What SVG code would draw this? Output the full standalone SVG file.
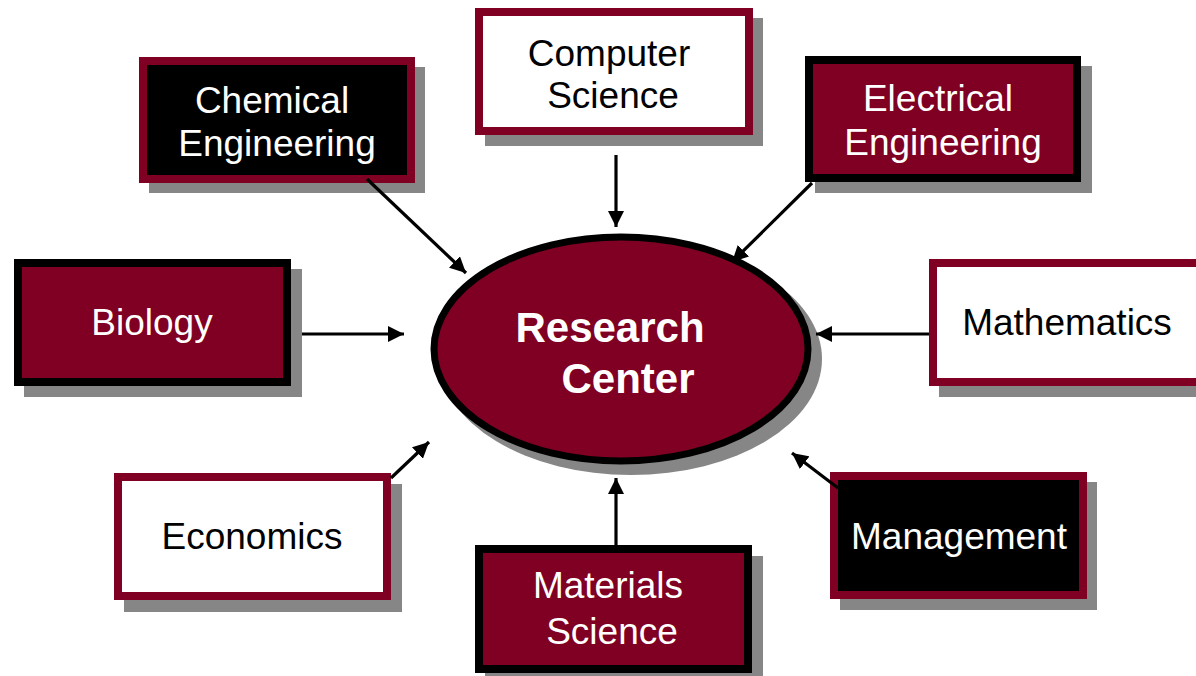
<svg xmlns="http://www.w3.org/2000/svg" width="1196" height="676" viewBox="0 0 1196 676">
<style>
.shadow{fill:#868686}
.mb{stroke:#7F0022;stroke-width:8}
.bb{stroke:#000;stroke-width:8}
.fm{fill:#7F0022}
.fw{fill:#fff}
.fk{fill:#000}
text{font-family:"Liberation Sans",Arial,sans-serif;font-size:37px;text-anchor:middle}
.tw{fill:#fff}
.tk{fill:#000}
.conn line{stroke:#000;stroke-width:3.2;marker-end:url(#ah)}
</style>
<defs>
<marker id="ah" markerUnits="userSpaceOnUse" markerWidth="16" markerHeight="16" refX="16" refY="8" orient="auto" viewBox="0 0 16 16">
<path d="M0,0 L16,8 L0,16 z" fill="#000"/>
</marker>
</defs>
<rect width="1196" height="676" fill="#fff"/>

<g id="research-center">
<ellipse class="shadow" cx="631" cy="359" rx="191" ry="116"/>
<ellipse cx="621" cy="349" rx="187" ry="112" fill="#7F0022" stroke="#000" stroke-width="7"/>
<text x="610" y="342" class="tw" style="font-size:42px;font-weight:bold">Research</text>
<text x="628" y="393" class="tw" style="font-size:42px;font-weight:bold">Center</text>
</g>

<g id="chemical-engineering">
<rect class="shadow" x="149" y="67" width="276" height="126"/>
<rect class="mb fk" x="143" y="61" width="268" height="118"/>
<text x="272" y="113" class="tw">Chemical</text>
<text x="277" y="156" class="tw">Engineering</text>
</g>

<g id="computer-science">
<rect class="shadow" x="485" y="18" width="278" height="128"/>
<rect class="mb fw" x="479" y="12" width="270" height="119"/>
<text x="609" y="66" class="tk">Computer</text>
<text x="613" y="108" class="tk">Science</text>
</g>

<g id="electrical-engineering">
<rect class="shadow" x="815" y="66" width="277" height="127"/>
<rect class="bb fm" x="809" y="60" width="268" height="118"/>
<text x="938" y="111" class="tw">Electrical</text>
<text x="943" y="155" class="tw">Engineering</text>
</g>

<g id="biology">
<rect class="shadow" x="24" y="269" width="278" height="128"/>
<rect class="bb fm" x="18" y="263" width="269" height="119"/>
<text x="152" y="335" class="tw">Biology</text>
</g>

<g id="mathematics">
<rect class="shadow" x="939" y="269" width="277" height="128"/>
<rect class="mb fw" x="933" y="263" width="269" height="119"/>
<text x="1067" y="335" class="tk">Mathematics</text>
</g>

<g id="economics">
<rect class="shadow" x="124" y="484" width="278" height="128"/>
<rect class="mb fw" x="118" y="477" width="269" height="119"/>
<text x="252" y="549" class="tk">Economics</text>
</g>

<g id="materials-science">
<rect class="shadow" x="485" y="556" width="278" height="130"/>
<rect class="bb fm" x="479" y="549" width="269" height="120"/>
<text x="608" y="598" class="tw">Materials</text>
<text x="612" y="644" class="tw">Science</text>
</g>

<g id="management">
<rect class="shadow" x="840" y="482" width="257" height="128"/>
<rect class="mb fk" x="834" y="476" width="249" height="119"/>
<text x="959" y="549" class="tw">Management</text>
</g>

<g class="conn" id="connectors">
<line x1="367" y1="179" x2="466" y2="273"/>
<line x1="616" y1="155" x2="616" y2="227"/>
<line x1="812" y1="183" x2="732" y2="262"/>
<line x1="302" y1="334" x2="404" y2="334"/>
<line x1="929" y1="334" x2="816" y2="334"/>
<line x1="391" y1="478" x2="429" y2="442"/>
<line x1="616" y1="545" x2="616" y2="478"/>
<line x1="838" y1="488" x2="792" y2="453"/>
</g>
</svg>
